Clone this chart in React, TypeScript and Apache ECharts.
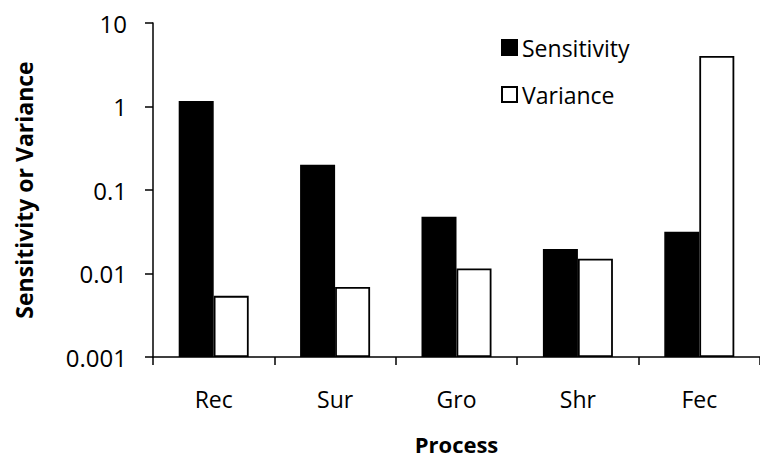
import React, { useEffect, useRef } from "react";
import * as echarts from "echarts";

const categories = ["Rec", "Sur", "Gro", "Shr", "Fec"];
const sensitivity = [1.16, 0.2, 0.0477, 0.0197, 0.0317];
const variance = [0.0054, 0.0069, 0.0115, 0.015, 4.02];
const yTickLabels: Record<string, string> = {
  "0.001": "0.001",
  "0.01": "0.01",
  "0.1": "0.1",
  "1": "1",
  "10": "10",
};

const FONT = "'Open Sans', 'Noto Sans', sans-serif";

export default function App() {
  const ref = useRef<HTMLDivElement>(null);
  useEffect(() => {
    if (!ref.current) return;
    const chart = echarts.init(ref.current, null, { renderer: "svg" });
    chart.setOption({
      animation: false,
      backgroundColor: "#ffffff",
      textStyle: { fontFamily: FONT, color: "#000" },
      grid: { left: 153, top: 23, width: 613, height: 340 },
      legend: {
        orient: "vertical",
        left: 496,
        top: 31,
        itemWidth: 15,
        itemHeight: 15,
        itemGap: 24,
        icon: "rect",
        textStyle: { fontFamily: FONT, fontSize: 23, color: "#000" },
        data: ["Sensitivity", "Variance"],
      },
      xAxis: {
        type: "category",
        data: categories,
        name: "Process",
        nameLocation: "middle",
        nameGap: 76,
        nameTextStyle: { fontFamily: FONT, fontSize: 22, fontWeight: "bold", color: "#000" },
        axisLine: { lineStyle: { color: "#000", width: 1.5 } },
        axisTick: { show: true, length: 8, lineStyle: { color: "#000", width: 1.5 } },
        axisLabel: { fontFamily: FONT, fontSize: 23, color: "#000", margin: 30 },
      },
      yAxis: {
        type: "log",
        logBase: 10,
        min: 0.001,
        max: 10,
        startValue: 0.001,
        name: "Sensitivity or Variance",
        nameLocation: "middle",
        nameGap: 118,
        nameRotate: 90,
        nameTextStyle: { fontFamily: FONT, fontSize: 23, fontWeight: "bold", color: "#000" },
        axisLine: { show: true, lineStyle: { color: "#000", width: 1.5 } },
        axisTick: { show: true, length: 8, lineStyle: { color: "#000", width: 1.5 } },
        minorTick: { show: false },
        splitLine: { show: false },
        axisLabel: {
          fontFamily: FONT,
          fontSize: 24,
          color: "#000",
          margin: 26,
          formatter: (v: number) => {
            const k = String(parseFloat(v.toPrecision(6)));
            return yTickLabels[k] ?? k;
          },
        },
      },
      series: [
        {
          name: "Sensitivity",
          type: "bar",
          data: sensitivity,
          barWidth: 35,
          barGap: "0%",
          itemStyle: { color: "#000", borderColor: "#000", borderWidth: 1.5 },
        },
        {
          name: "Variance",
          type: "bar",
          data: variance,
          barWidth: 35,
          barGap: "0%",
          itemStyle: { color: "#fff", borderColor: "#000", borderWidth: 1.8 },
        },
      ],
    });
    return () => chart.dispose();
  }, []);
  return (
    <div
      ref={ref}
      style={{ position: "fixed", left: 0, top: 0, width: 760, height: 460, background: "#fff" }}
    />
  );
}
